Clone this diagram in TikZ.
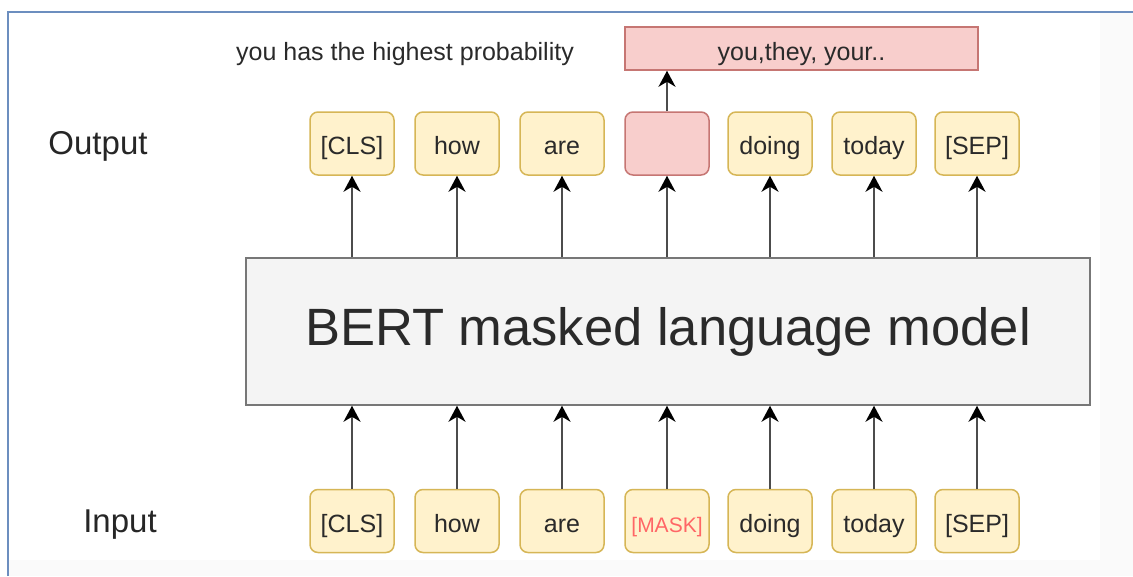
\documentclass[tikz,border=0pt]{standalone}
\usepackage{fontspec}
\setmainfont{Liberation Sans}
\usetikzlibrary{arrows.meta}
\definecolor{yfill}{HTML}{FFF2CC}
\definecolor{ydraw}{HTML}{D6B656}
\definecolor{rfill}{HTML}{F8CECC}
\definecolor{rdraw}{HTML}{B85450}
\definecolor{gfill}{HTML}{F4F4F4}
\definecolor{gdraw}{HTML}{777777}
\definecolor{frameblue}{HTML}{6C8EBF}
\definecolor{txt}{HTML}{2A2A2A}
\definecolor{maskred}{HTML}{FF6666}
\definecolor{lightshade}{HTML}{FAFAFA}
\tikzset{
  tok/.style={draw=ydraw, fill=yfill, line width=1.5pt, rounded corners=8pt,
    minimum width=84pt, minimum height=63pt, inner sep=0pt, text=txt,
    text height=24pt, text depth=2pt,
    font=\fontsize{25}{29}\selectfont},
  tokred/.style={tok, draw=rdraw!80, fill=rfill},
  conn/.style={draw=black!70, line width=2pt, -{Stealth[length=16pt,width=17pt,inset=5pt,color=black]}},
  lbl/.style={text=black!85, font=\fontsize{33}{38}\selectfont, inner sep=0pt, text height=24pt, text depth=1.5pt}
}
\begin{document}
\begin{tikzpicture}[x=1pt,y=-1pt]
\useasboundingbox (0,0) rectangle (1133,576);
\fill[white] (0,0) rectangle (1133,576);
\fill[lightshade] (1100,13) rectangle (1133,576);
\fill[lightshade] (9,560) rectangle (1133,576);
\draw[frameblue, line width=2.5pt] (8,576) -- (8,12) -- (1133,12);

\node[lbl, anchor=center] (outlbl) at (98,143) {Output};
\node[lbl, anchor=center] (inlbl) at (120,521) {Input};

\node[draw=gdraw, fill=gfill, line width=1.5pt, minimum width=844pt, minimum height=147pt,
  inner sep=0pt, text=txt, font=\fontsize{52.5}{58}\selectfont] (bert) at (668,331.5) {BERT masked language model};

\foreach \i/\t/\x in {1/[CLS]/352,2/how/457,3/are/562,5/doing/770,6/today/874,7/[SEP]/977} {
  \node[tok] (o\i) at (\x,143.5) {\t};
  \node[tok] (in\i) at (\x,521) {\t};
}
\node[tokred] (o4) at (667,143.5) {};
\node[tok, text=maskred, font=\fontsize{21}{25}\selectfont] (in4) at (667,521) {[MASK]};

\node[draw=rdraw!80, fill=rfill, line width=1.5pt, minimum width=353pt, minimum height=43pt,
  inner sep=0pt, text=txt, text height=25pt, text depth=2pt, font=\fontsize{25}{29}\selectfont] (pred) at (801.5,48.5) {you,they, your..};
\node[text=txt, font=\fontsize{25}{29}\selectfont, inner sep=0pt, text height=22pt, text depth=2pt] (note) at (405,50) {you has the highest probability};

\foreach \i in {1,...,7} {
  \draw[conn] (in\i.north) -- (in\i.north |- bert.south);
  \draw[conn] (o\i.south |- bert.north) -- (o\i.south);
}
\draw[conn] (o4.north) -- (o4.north |- pred.south);
\end{tikzpicture}
\end{document}
